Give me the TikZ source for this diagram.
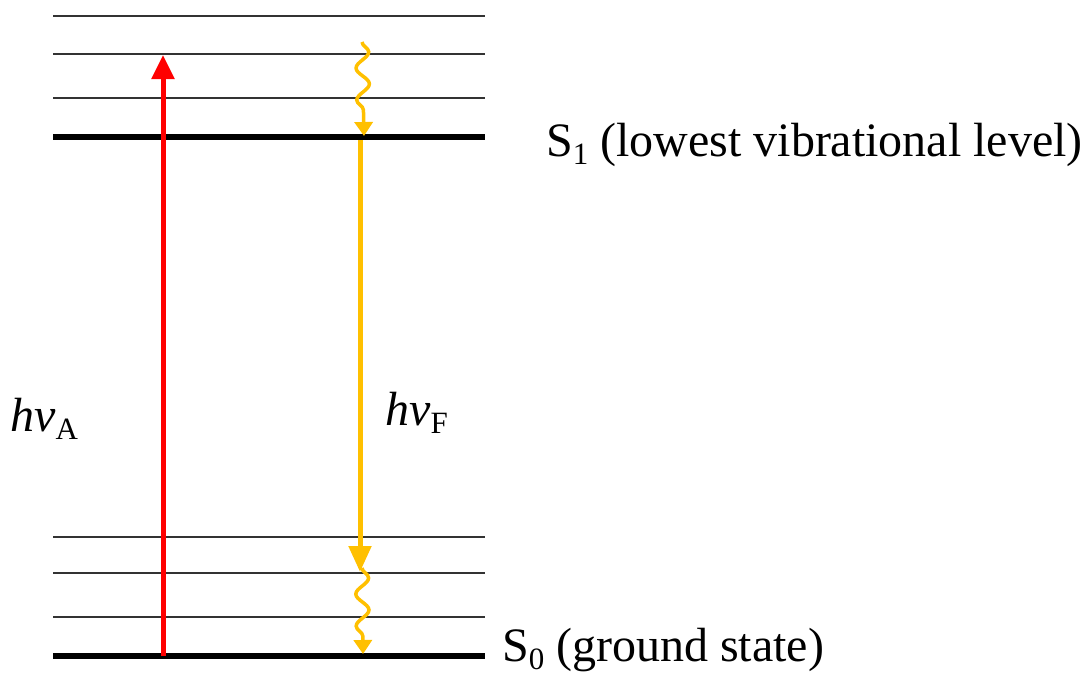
\documentclass[tikz,border=0pt]{standalone}
\usepackage{fontspec}
\setmainfont{Liberation Serif}
\usetikzlibrary{arrows.meta,decorations.pathmorphing}
\definecolor{gold}{HTML}{FFC000}
\newcommand\lowsub[1]{\raisebox{-0.18em}{\fontsize{31}{31}\selectfont #1}}
\tikzset{
  thinlvl/.style={line width=1.5pt, black!80},
  thicklvl/.style={line width=6pt, black},
  lbl/.style={font=\fontsize{48}{52}\selectfont, inner sep=0pt},
  wavy/.style={gold, line width=3.5pt, decorate, decoration={snake, amplitude=6.5pt, segment length=32pt, post length=14pt}, -{Triangle[width=18pt,length=14pt]}}
}
\begin{document}
\begin{tikzpicture}[x=1pt,y=-1pt]
\useasboundingbox (0,0) rectangle (1087,675);
% levels
\foreach \y/\n in {16/u3,54/u2,98/u1,537/g3,573/g2,617/g1}{
  \coordinate (\n L) at (53,\y); \coordinate (\n R) at (485,\y);
  \draw[thinlvl] (\n L) -- (\n R);
}
\coordinate (s1L) at (53,137); \coordinate (s1R) at (485,137);
\coordinate (s0L) at (53,656); \coordinate (s0R) at (485,656);
\draw[thicklvl] (s1L) -- (s1R);
\draw[thicklvl] (s0L) -- (s0R);
% absorption
\coordinate (aS) at (163,656); \coordinate (aE) at (163,55);
\draw[red, line width=5pt, -{Triangle[width=22pt,length=24pt]}] (aS) -- (aE);
% vibrational relaxation top
\coordinate (w1S) at (362,42); \coordinate (w1E) at (364,136);
\draw[wavy] (w1S) -- (w1E);
% fluorescence
\coordinate (fS) at (360,140); \coordinate (fE) at (360,572);
\draw[gold, line width=5pt, -{Triangle[width=22pt,length=26pt]}] (fS) -- (fE);
% vibrational relaxation bottom
\coordinate (w2S) at (362,568); \coordinate (w2E) at (363,654);
\draw[wavy] (w2S) -- (w2E);
% labels
\node[lbl, anchor=base west] (s1) at (546,156) {S\lowsub{1} (lowest vibrational level)};
\node[lbl, anchor=base west] (s0) at (502,661) {S\lowsub{0} (ground state)};
\node[lbl, anchor=base west] (hA) at (10,431) {\textit{hv}\lowsub{A}};
\node[lbl, anchor=base west] (hF) at (385,425) {\textit{hv}\lowsub{F}};
\end{tikzpicture}
\end{document}
